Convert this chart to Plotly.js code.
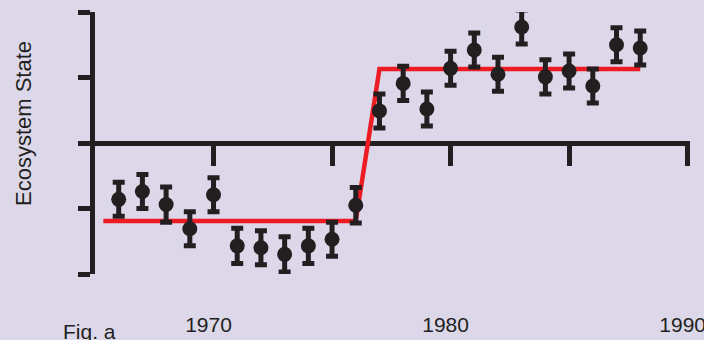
<!DOCTYPE html>
<html>
<head>
<meta charset="utf-8">
<script src="https://cdn.plot.ly/plotly-3.0.1.min.js"></script>
<style>
  html, body { margin: 0; padding: 0; background: #dcd8ea; }
  #chart { width: 704px; height: 340px; }
</style>
</head>
<body>
<div id="chart"></div>
<script>
// Annual ecosystem-state index with its uncertainty
const years = [1966, 1967, 1968, 1969, 1970, 1971, 1972, 1973, 1974, 1975, 1976, 1977,
               1978, 1979, 1980, 1981, 1982, 1983, 1984, 1985, 1986, 1987, 1988];
const state = [-0.86, -0.74, -0.94, -1.31, -0.79, -1.57, -1.60, -1.70, -1.57, -1.47, -0.95, 0.49,
               0.91, 0.52, 1.14, 1.42, 1.05, 1.77, 1.01, 1.10, 0.87, 1.50, 1.45];
const stateErr = [0.26, 0.26, 0.27, 0.26, 0.26, 0.27, 0.26, 0.27, 0.27, 0.26, 0.27, 0.26,
                  0.26, 0.26, 0.26, 0.26, 0.26, 0.26, 0.26, 0.26, 0.26, 0.26, 0.26];

// Step model: low regime, shift in 1976-77, high regime
const fitYears = [1965.35, 1976, 1977, 1988];
const fitState = [-1.19, -1.19, 1.13, 1.13];

// Axis ticks
const yTicks = [-2, -1, 0, 1, 2];
const xTickMarks = [1970, 1975, 1980, 1985, 1990];
const xLabelVals = [1970, 1980, 1990];
const xLabelText = ['1970', '1980', '1990'];

const ink = '#231f20';
const red = '#ed1c24';
const bg = '#dcd8ea';
const fontFamily = 'Liberation Sans, Arial, Helvetica, sans-serif';
const xRange = [1965, 1990.1];

const traces = [
  {
    x: fitYears, y: fitState,
    type: 'scatter', mode: 'lines',
    line: { color: red, width: 4.5 },
    hoverinfo: 'skip', showlegend: false
  },
  {
    x: years, y: state,
    type: 'scatter', mode: 'markers',
    marker: { color: ink, size: 15 },
    error_y: { type: 'data', array: stateErr, visible: true, color: ink, thickness: 5, width: 6 },
    cliponaxis: false, showlegend: false
  },
  {
    // carries the tick-mark axis drawn along the zero line
    x: [], y: [], xaxis: 'x2', yaxis: 'y',
    type: 'scatter', mode: 'markers', showlegend: false, hoverinfo: 'skip'
  }
];

const layout = {
  width: 704, height: 340,
  margin: { l: 95, r: 14, t: 12, b: 66 },
  paper_bgcolor: bg, plot_bgcolor: bg,
  font: { family: fontFamily, size: 21, color: ink },
  showlegend: false,
  xaxis: {
    range: xRange,
    tickvals: xLabelVals, ticktext: xLabelText,
    ticks: 'outside', ticklen: 32, tickcolor: 'rgba(0,0,0,0)',
    ticklabeloverflow: 'allow', ticklabelshift: -5,
    tickfont: { family: fontFamily, size: 21, color: ink },
    showline: false, showgrid: false, zeroline: false
  },
  xaxis2: {
    range: xRange, overlaying: 'x', anchor: 'free', position: 0.5, side: 'bottom',
    tickvals: xTickMarks, ticks: 'outside', ticklen: 22, tickwidth: 5, tickcolor: ink,
    showticklabels: false, showline: false, showgrid: false, zeroline: false
  },
  yaxis: {
    range: [-2, 2],
    tickvals: yTicks, ticks: 'outside', ticklen: 12, tickwidth: 5, tickcolor: ink,
    showticklabels: false,
    showline: true, linewidth: 5, linecolor: ink,
    showgrid: false,
    zeroline: true, zerolinewidth: 5, zerolinecolor: ink
  },
  annotations: [
    {
      // y-axis title
      text: 'Ecosystem State', textangle: -90,
      xref: 'paper', yref: 'paper', x: -0.121, y: 0.5725,
      xanchor: 'center', yanchor: 'middle',
      showarrow: false, font: { family: fontFamily, size: 22, color: ink }
    },
    {
      text: 'Fig. a', xref: 'paper', yref: 'paper',
      x: -0.057, y: -0.168, xanchor: 'left', yanchor: 'top',
      showarrow: false, font: { family: fontFamily, size: 21, color: ink }
    }
  ]
};

Plotly.newPlot('chart', traces, layout, { displayModeBar: false, staticPlot: true });
</script>
</body>
</html>
